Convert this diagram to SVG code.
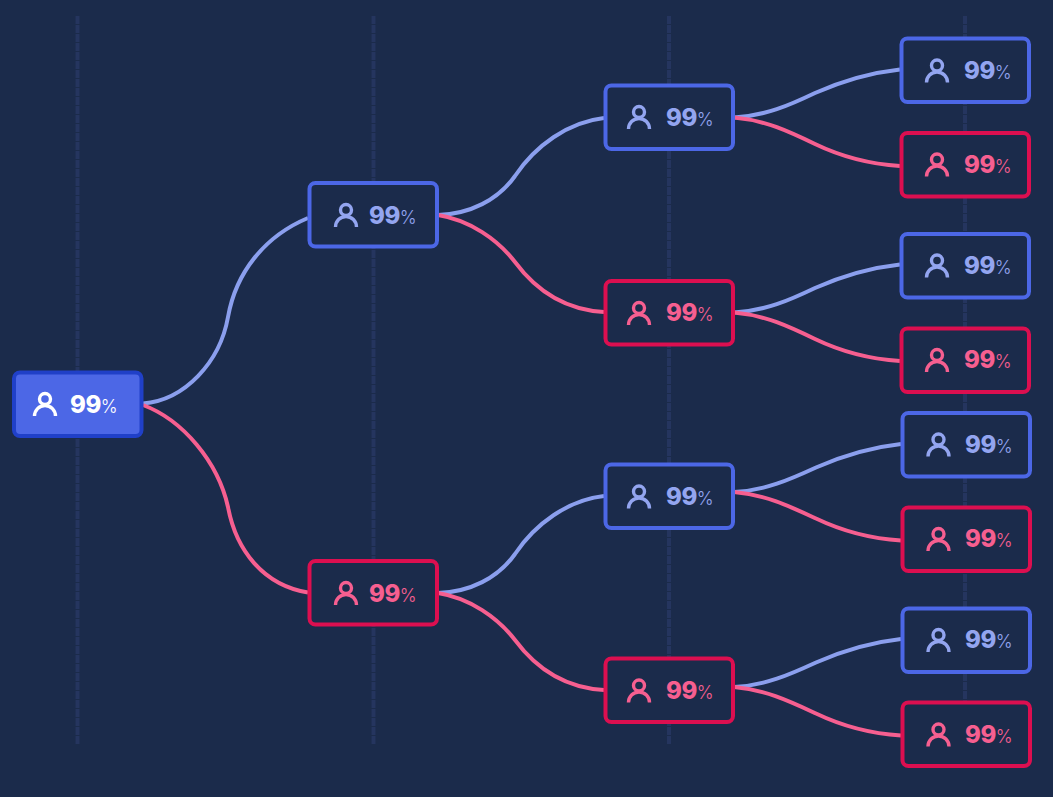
<svg xmlns="http://www.w3.org/2000/svg" width="1053" height="797" viewBox="0 0 1053 797">
<style>
.g{stroke:#25355f;stroke-width:4;stroke-dasharray:8 1;fill:none}
.c{fill:none;stroke-width:4}
.cb{stroke:#8b9fee}
.cr{stroke:#f65f90}
.n{fill:#1b2b4b;stroke-width:4}
.b .n{stroke:#4c67e6}
.r .n{stroke:#dc0f50}
.root .n{fill:#4c67e6;stroke:#2040c8}
.i{fill:none;stroke-width:3.4}
.b .i{stroke:#93a5f0}.r .i{stroke:#f65f90}.root .i{stroke:#fff}
text{font-family:Inter,"Liberation Sans",sans-serif}
.b text{fill:#93a5f0}.r text{fill:#f65f90}.root text{fill:#fff}
.v{font-size:24px;font-weight:800;letter-spacing:-.5px}
.p{font-size:18px;font-weight:300}
</style>
<rect width="1053" height="797" fill="#1b2b4b"/>
<g id="guides">
<path class="g" d="M77.500 16V744M373.500 16V744M669 16V744M965 16V744"/>
</g>
<g id="connectors">
<path class="c cb" d="M143 403.500C185 400 220 362 228 317C236 272 265 236 308 218"/>
<path class="c cr" d="M143 405C183 420 218 462 228 507C236 550 263 585 308 592.500"/>
<path class="c cb" d="M438 215C470 214 498 200 515 176C535 146 568 122 604 118"/>
<path class="c cr" d="M438 215C470 220 498 240 515 262C538 293 568 310 604 312"/>
<path class="c cb" d="M438 593C470 592 498 578 515 554C535 524 568 500 604 496"/>
<path class="c cr" d="M438 593C470 598 498 618 515 640C538 671 568 688 604 690"/>
<path class="c cb" d="M734 117.500C765 116 790 105 815 93C840 82 868 73 900 69.500"/>
<path class="c cr" d="M734 117.500C765 120 790 132 815 144C840 156 868 164 900 166"/>
<path class="c cb" d="M734 312.500C765 311 790 300 815 288C840 277 868 268 900 264.500"/>
<path class="c cr" d="M734 312.500C765 315 790 327 815 339C840 351 868 359 900 361"/>
<path class="c cb" d="M734 492C765 490.500 790 479.500 816 467.500C841 456.500 869 447.500 901 444"/>
<path class="c cr" d="M734 492C765 494.500 790 506.500 816 518.500C841 530.500 869 538.500 901 540.500"/>
<path class="c cb" d="M734 687C765 685.500 790 674.500 816 662.500C841 651.500 869 642.500 901 639"/>
<path class="c cr" d="M734 687C765 689.500 790 701.500 816 713.500C841 725.500 869 733.500 901 735.500"/>
</g>
<g id="n0" class="root"><rect class="n" x="14" y="372.500" width="127.500" height="63.500" rx="6"/><circle class="i" cx="45" cy="399" r="5.500"/><path class="i" d="M34.500 416a10.500 10.500 0 0 1 21 0"/><text x="70" y="413"><tspan class="v">99</tspan><tspan class="p">%</tspan></text></g>
<g id="n1" class="b"><rect class="n" x="309.500" y="183" width="127.500" height="63.500" rx="6"/><circle class="i" cx="346" cy="210" r="5.500"/><path class="i" d="M335.500 227a10.500 10.500 0 0 1 21 0"/><text x="369" y="224"><tspan class="v">99</tspan><tspan class="p">%</tspan></text></g>
<g id="n2" class="r"><rect class="n" x="309.500" y="561" width="127.500" height="63.500" rx="6"/><circle class="i" cx="346" cy="588" r="5.500"/><path class="i" d="M335.500 605a10.500 10.500 0 0 1 21 0"/><text x="369" y="602"><tspan class="v">99</tspan><tspan class="p">%</tspan></text></g>
<g id="n3" class="b"><rect class="n" x="605.500" y="85.500" width="127.500" height="63.500" rx="6"/><circle class="i" cx="639" cy="112" r="5.500"/><path class="i" d="M628.500 129a10.500 10.500 0 0 1 21 0"/><text x="666" y="126"><tspan class="v">99</tspan><tspan class="p">%</tspan></text></g>
<g id="n4" class="r"><rect class="n" x="605.500" y="281" width="127.500" height="63.500" rx="6"/><circle class="i" cx="639" cy="308" r="5.500"/><path class="i" d="M628.500 325a10.500 10.500 0 0 1 21 0"/><text x="666" y="321"><tspan class="v">99</tspan><tspan class="p">%</tspan></text></g>
<g id="n5" class="b"><rect class="n" x="605.500" y="464.500" width="127.500" height="63.500" rx="6"/><circle class="i" cx="639" cy="491.500" r="5.500"/><path class="i" d="M628.500 508.500a10.500 10.500 0 0 1 21 0"/><text x="666" y="505"><tspan class="v">99</tspan><tspan class="p">%</tspan></text></g>
<g id="n6" class="r"><rect class="n" x="605.500" y="658.500" width="127.500" height="63.500" rx="6"/><circle class="i" cx="639" cy="685.500" r="5.500"/><path class="i" d="M628.500 702.500a10.500 10.500 0 0 1 21 0"/><text x="666" y="699"><tspan class="v">99</tspan><tspan class="p">%</tspan></text></g>
<g id="n7" class="b"><rect class="n" x="901.500" y="38.500" width="127.500" height="63.500" rx="6"/><circle class="i" cx="937" cy="65.500" r="5.500"/><path class="i" d="M926.500 82.500a10.500 10.500 0 0 1 21 0"/><text x="964" y="79"><tspan class="v">99</tspan><tspan class="p">%</tspan></text></g>
<g id="n8" class="r"><rect class="n" x="901.500" y="133" width="127.500" height="63.500" rx="6"/><circle class="i" cx="937" cy="159.500" r="5.500"/><path class="i" d="M926.500 176.500a10.500 10.500 0 0 1 21 0"/><text x="964" y="173"><tspan class="v">99</tspan><tspan class="p">%</tspan></text></g>
<g id="n9" class="b"><rect class="n" x="901.500" y="234" width="127.500" height="63.500" rx="6"/><circle class="i" cx="937" cy="260.500" r="5.500"/><path class="i" d="M926.500 277.500a10.500 10.500 0 0 1 21 0"/><text x="964" y="274"><tspan class="v">99</tspan><tspan class="p">%</tspan></text></g>
<g id="n10" class="r"><rect class="n" x="901.500" y="328.500" width="127.500" height="63.500" rx="6"/><circle class="i" cx="937" cy="355" r="5.500"/><path class="i" d="M926.500 372a10.500 10.500 0 0 1 21 0"/><text x="964" y="368"><tspan class="v">99</tspan><tspan class="p">%</tspan></text></g>
<g id="n11" class="b"><rect class="n" x="902.500" y="413" width="127.500" height="63.500" rx="6"/><circle class="i" cx="938.500" cy="439.500" r="5.500"/><path class="i" d="M928 456.500a10.500 10.500 0 0 1 21 0"/><text x="965" y="453"><tspan class="v">99</tspan><tspan class="p">%</tspan></text></g>
<g id="n12" class="r"><rect class="n" x="902.500" y="507.500" width="127.500" height="63.500" rx="6"/><circle class="i" cx="938.500" cy="534" r="5.500"/><path class="i" d="M928 551a10.500 10.500 0 0 1 21 0"/><text x="965" y="547"><tspan class="v">99</tspan><tspan class="p">%</tspan></text></g>
<g id="n13" class="b"><rect class="n" x="902.500" y="608.500" width="127.500" height="63.500" rx="6"/><circle class="i" cx="938.500" cy="635" r="5.500"/><path class="i" d="M928 652a10.500 10.500 0 0 1 21 0"/><text x="965" y="648"><tspan class="v">99</tspan><tspan class="p">%</tspan></text></g>
<g id="n14" class="r"><rect class="n" x="902.500" y="702.500" width="127.500" height="63.500" rx="6"/><circle class="i" cx="938.500" cy="729.500" r="5.500"/><path class="i" d="M928 746.500a10.500 10.500 0 0 1 21 0"/><text x="965" y="743"><tspan class="v">99</tspan><tspan class="p">%</tspan></text></g>
</svg>
